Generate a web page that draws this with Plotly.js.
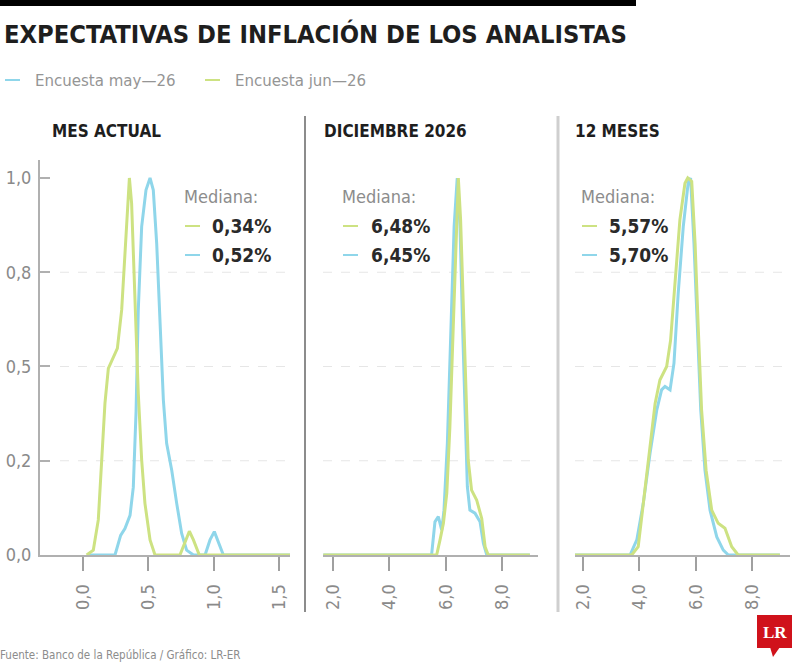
<!DOCTYPE html>
<html>
<head>
<meta charset="utf-8">
<script src="https://cdn.plot.ly/plotly-3.0.1.min.js"></script>
<style>html,body{margin:0;padding:0;background:#fff;}#chart{width:800px;height:666px;}</style>
</head>
<body>
<div id="chart"></div>
<script>
// ---------- DATA ----------
const seriesNames = ["Encuesta may\u201426", "Encuesta jun\u201426"];
const panelTitles = ["MES ACTUAL", "DICIEMBRE 2026", "12 MESES"];
const medianMay = ["0,52%", "6,45%", "5,70%"];
const medianJun = ["0,34%", "6,48%", "5,57%"];

// Panel 1: Mes actual
const mesMayX = [0.04, 0.245, 0.288, 0.321, 0.36, 0.385, 0.406, 0.423, 0.449, 0.482, 0.513, 0.538, 0.564, 0.589, 0.615, 0.64, 0.679, 0.717, 0.755, 0.793, 0.845, 0.934, 0.972, 1.005, 1.036, 1.074, 1.59];
const mesMayY = [0, 0, 0.052, 0.07, 0.105, 0.18, 0.38, 0.65, 0.871, 0.968, 1.0, 0.968, 0.826, 0.632, 0.411, 0.296, 0.225, 0.137, 0.057, 0.013, 0, 0, 0.04, 0.062, 0.035, 0, 0];
const mesJunX = [0.028, 0.079, 0.117, 0.143, 0.168, 0.194, 0.232, 0.263, 0.296, 0.321, 0.347, 0.355, 0.372, 0.398, 0.423, 0.449, 0.474, 0.513, 0.551, 0.742, 0.78, 0.814, 0.845, 0.89, 1.59];
const mesJunY = [0, 0.013, 0.093, 0.252, 0.402, 0.495, 0.526, 0.548, 0.65, 0.80, 0.968, 1.0, 0.933, 0.694, 0.429, 0.252, 0.137, 0.04, 0, 0, 0.035, 0.063, 0.04, 0, 0];

// Panel 2: Diciembre 2026
const dicMayX = [1.655, 5.50, 5.62, 5.74, 5.86, 5.94, 6.06, 6.18, 6.30, 6.41, 6.51, 6.60, 6.69, 6.77, 6.86, 7.04, 7.22, 7.34, 7.46, 8.99];
const dicMayY = [0, 0, 0.088, 0.102, 0.066, 0.119, 0.296, 0.606, 0.871, 1.0, 0.871, 0.606, 0.34, 0.181, 0.119, 0.111, 0.088, 0.031, 0, 0];
const dicJunX = [1.655, 5.68, 5.80, 5.92, 6.04, 6.15, 6.27, 6.37, 6.45, 6.53, 6.63, 6.72, 6.80, 6.92, 7.10, 7.28, 7.40, 7.51, 8.99];
const dicJunY = [0, 0, 0.04, 0.084, 0.164, 0.34, 0.606, 0.826, 1.0, 0.89, 0.65, 0.429, 0.252, 0.172, 0.146, 0.097, 0.022, 0, 0];

// Panel 3: 12 meses
const docMayX = [1.716, 3.67, 3.91, 4.14, 4.38, 4.62, 4.79, 4.91, 5.09, 5.23, 5.38, 5.56, 5.74, 5.82, 5.94, 6.06, 6.18, 6.33, 6.51, 6.75, 6.98, 7.16, 8.99];
const docMayY = [0, 0, 0.04, 0.137, 0.27, 0.385, 0.438, 0.447, 0.438, 0.509, 0.694, 0.871, 0.991, 1.0, 0.826, 0.606, 0.385, 0.225, 0.119, 0.048, 0.013, 0, 0];
const docJunX = [1.716, 3.73, 3.96, 4.14, 4.38, 4.56, 4.73, 4.97, 5.11, 5.27, 5.44, 5.62, 5.72, 5.86, 5.98, 6.09, 6.21, 6.37, 6.57, 6.80, 7.04, 7.28, 7.51, 8.99];
const docJunY = [0, 0, 0.022, 0.137, 0.296, 0.402, 0.464, 0.5, 0.57, 0.738, 0.889, 0.986, 1.0, 0.991, 0.826, 0.606, 0.385, 0.225, 0.119, 0.084, 0.071, 0.022, 0, 0];

// Tick labels
const yTickVals = [0, 0.25, 0.5, 0.75, 1];
const yTickText = ["0,0", "0,2", "0,5", "0,8", "1,0"];
const x1TickVals = [0, 0.5, 1, 1.5];
const x1TickText = ["0,0", "0,5", "1,0", "1,5"];
const x23TickVals = [2, 4, 6, 8];
const x23TickText = ["2,0", "4,0", "6,0", "8,0"];

const title = "EXPECTATIVAS DE INFLACI\u00D3N DE LOS ANALISTAS";
const source = "Fuente: Banco de la Rep\u00FAblica / Gr\u00E1fico: LR-ER";

// ---------- STYLE ----------
const W = 800, H = 666;
const BLUE = "#8fd6ea", GREEN = "#cde282";
const FONT = "'DejaVu Sans Condensed', 'Liberation Sans Narrow', sans-serif";
const px = v => v / W;
const py = v => 1 - v / H;

const yDomain = [py(555), py(160)];
const yRange = [0, 1.0477];

function tr(x, y, color, xa, ya, name) {
  return {x: x, y: y, type: "scatter", mode: "lines", name: name, showlegend: false,
    line: {color: color, width: 3}, xaxis: xa, yaxis: ya, hoverinfo: "skip"};
}
const data = [
  tr(mesMayX, mesMayY, BLUE, "x", "y", seriesNames[0]),
  tr(mesJunX, mesJunY, GREEN, "x", "y", seriesNames[1]),
  tr(dicMayX, dicMayY, BLUE, "x2", "y2", seriesNames[0]),
  tr(dicJunX, dicJunY, GREEN, "x2", "y2", seriesNames[1]),
  tr(docMayX, docMayY, BLUE, "x3", "y3", seriesNames[0]),
  tr(docJunX, docJunY, GREEN, "x3", "y3", seriesNames[1])
];

function xaxis(domain, range, vals, text, anchor) {
  return {domain: domain, range: range, anchor: anchor, showgrid: false, zeroline: false,
    showline: true, linecolor: "#b0b0b0", linewidth: 2,
    ticks: "outside", ticklen: 14, tickwidth: 2, tickcolor: "#a0a0a0",
    tickvals: vals, ticktext: text, tickangle: -90, ticklabelstandoff: 6,
    tickfont: {family: FONT, size: 18, color: "#8a8a8a"}, fixedrange: true};
}
function yaxis(anchor, visible) {
  return {domain: yDomain, range: yRange, anchor: anchor, showgrid: false, zeroline: false,
    visible: visible, showline: true, linecolor: "#b0b0b0", linewidth: 2,
    ticks: "inside", ticklen: 10, tickwidth: 2, tickcolor: "#b0b0b0",
    tickvals: yTickVals, ticktext: yTickText, ticklabelstandoff: 3,
    tickfont: {family: FONT, size: 18, color: "#8a8a8a"}, fixedrange: true};
}

const shapes = [];
const annotations = [];

// top bar
shapes.push({type: "rect", xref: "paper", yref: "paper", x0: 0, x1: px(636), y0: py(6), y1: py(0), fillcolor: "#000", line: {width: 0}, layer: "above"});
// dividers
shapes.push({type: "line", xref: "paper", yref: "paper", x0: px(305), x1: px(305), y0: py(612), y1: py(116), line: {color: "#8c8c8c", width: 2}});
shapes.push({type: "line", xref: "paper", yref: "paper", x0: px(558), x1: px(558), y0: py(612), y1: py(116), line: {color: "#cfcfcf", width: 3}});
// dashed gridlines
["x", "x2", "x3"].forEach((xa, i) => {
  const ya = ["y", "y2", "y3"][i];
  [0.25, 0.5, 0.75].forEach(v => {
    shapes.push({type: "line", xref: xa + " domain", yref: ya, x0: i === 0 ? 0.08 : 0, x1: 1, y0: v, y1: v,
      line: {color: "#e6e6e6", width: 1, dash: "dash"}, layer: "below"});
  });
});

// title
annotations.push({text: title, xref: "paper", yref: "paper", x: px(2), y: py(34), xanchor: "left", yanchor: "middle",
  showarrow: false, font: {family: FONT, size: 25.3, color: "#1e1e1e", weight: "bold"}});
// legend
const legItems = [{x: 5, color: BLUE, text: seriesNames[0]}, {x: 205, color: GREEN, text: seriesNames[1]}];
legItems.forEach(it => {
  shapes.push({type: "line", xref: "paper", yref: "paper", x0: px(it.x), x1: px(it.x + 15), y0: py(80), y1: py(80), line: {color: it.color, width: 2}});
  annotations.push({text: it.text, xref: "paper", yref: "paper", x: px(it.x + 28), y: py(80), xanchor: "left", yanchor: "middle",
    showarrow: false, font: {family: FONT, size: 16.7, color: "#959595"}});
});
// panel titles & medians
const pTitleX = [52, 324, 575];
const medX = [185, 343, 582];
const valX = [213, 372, 610];
panelTitles.forEach((t, i) => {
  annotations.push({text: t, xref: "paper", yref: "paper", x: px(pTitleX[i] - 2), y: py(131), xanchor: "left", yanchor: "middle",
    showarrow: false, font: {family: FONT, size: 17, color: "#1e1e1e", weight: "bold"}});
  annotations.push({text: "Mediana:", xref: "paper", yref: "paper", x: px(medX[i] - 3), y: py(197), xanchor: "left", yanchor: "middle",
    showarrow: false, font: {family: FONT, size: 18, color: "#8c8c8c"}});
  [[medianJun[i], GREEN, 226], [medianMay[i], BLUE, 255]].forEach(r => {
    shapes.push({type: "line", xref: "paper", yref: "paper", x0: px(medX[i]), x1: px(medX[i] + 15), y0: py(r[2]), y1: py(r[2]), line: {color: r[1], width: 2}});
    annotations.push({text: r[0], xref: "paper", yref: "paper", x: px(valX[i] - 3), y: py(r[2]), xanchor: "left", yanchor: "middle",
      showarrow: false, font: {family: FONT, size: 19, color: "#2a2a2a", weight: "bold"}});
  });
});
// source
annotations.push({text: source, xref: "paper", yref: "paper", x: px(-2), y: py(655), xanchor: "left", yanchor: "middle",
  showarrow: false, font: {family: FONT, size: 11.5, color: "#8c8c8c"}});
// logo
shapes.push({type: "rect", xref: "paper", yref: "paper", x0: px(757), x1: px(792), y0: py(648), y1: py(615), fillcolor: "#d0121b", line: {width: 0}});
shapes.push({type: "path", xref: "paper", yref: "paper", path: `M ${px(770)} ${py(647)} L ${px(780)} ${py(647)} L ${px(773)} ${py(657)} Z`, fillcolor: "#d0121b", line: {width: 0}});
annotations.push({text: "LR", xref: "paper", yref: "paper", x: px(774.5), y: py(632), xanchor: "center", yanchor: "middle",
  showarrow: false, font: {family: "'Liberation Serif', serif", size: 17, color: "#fff", weight: "bold"}});

const layout = {
  width: W, height: H, margin: {l: 0, r: 0, t: 0, b: 0},
  paper_bgcolor: "#fff", plot_bgcolor: "rgba(0,0,0,0)", showlegend: false,
  xaxis: xaxis([px(40), px(290)], [-0.329, 1.584], x1TickVals, x1TickText, "y"),
  xaxis2: xaxis([px(323), px(538)], [1.645, 9.278], x23TickVals, x23TickText, "y2"),
  xaxis3: xaxis([px(575), px(790)], [1.716, 9.349], x23TickVals, x23TickText, "y3"),
  yaxis: yaxis("x", true),
  yaxis2: yaxis("x2", false),
  yaxis3: yaxis("x3", false),
  shapes: shapes, annotations: annotations
};
Plotly.newPlot("chart", data, layout, {displayModeBar: false, staticPlot: true});
</script>
</body>
</html>
